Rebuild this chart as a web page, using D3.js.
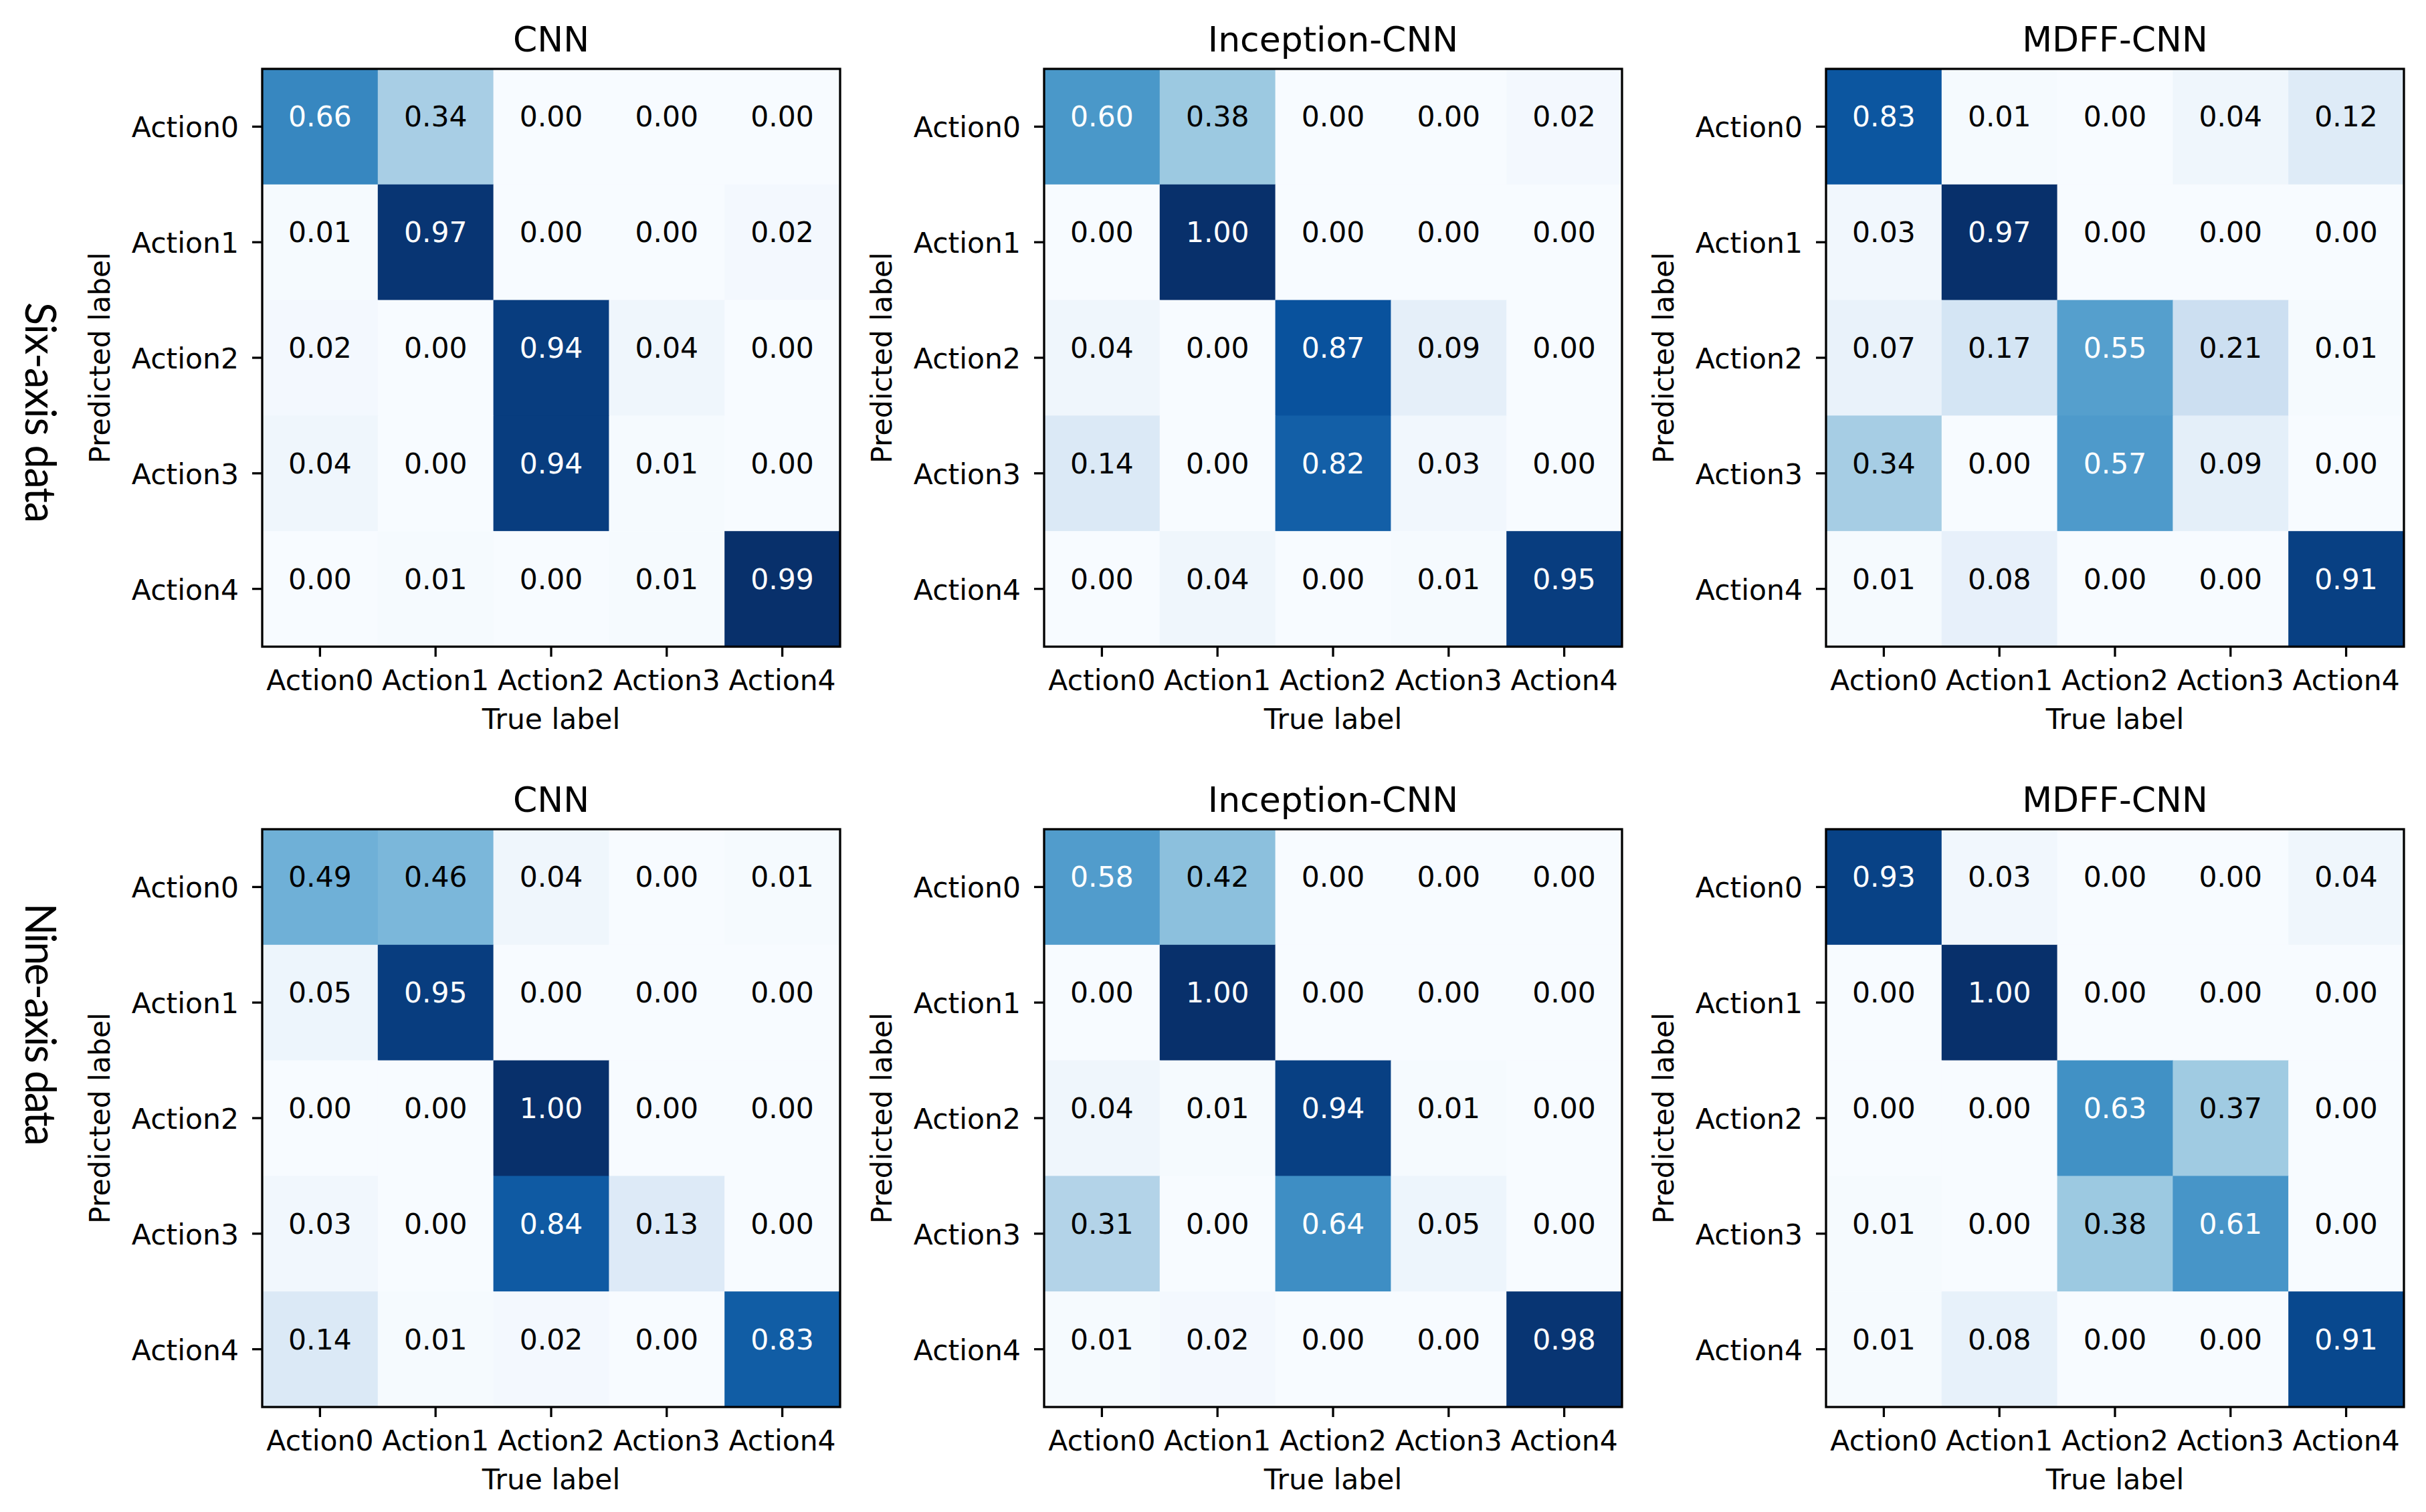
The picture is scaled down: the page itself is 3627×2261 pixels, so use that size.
<!DOCTYPE html>
<html>
<head>
<meta charset="utf-8">
<script src="https://cdn.jsdelivr.net/npm/d3@7"></script>
<style>
  html, body { margin: 0; padding: 0; background: #ffffff; }
  svg { display: block; }
</style>
</head>
<body>
<script>
// ---------- DATA ----------
const actions = ["Action0", "Action1", "Action2", "Action3", "Action4"];
const modelTitles = ["CNN", "Inception-CNN", "MDFF-CNN"];
const rowLabels = ["Six-axis data", "Nine-axis data"];

// rows = predicted label, columns = true label
const sixCNN = [
  [0.66, 0.34, 0.00, 0.00, 0.00],
  [0.01, 0.97, 0.00, 0.00, 0.02],
  [0.02, 0.00, 0.94, 0.04, 0.00],
  [0.04, 0.00, 0.94, 0.01, 0.00],
  [0.00, 0.01, 0.00, 0.01, 0.99]
];
const sixInception = [
  [0.60, 0.38, 0.00, 0.00, 0.02],
  [0.00, 1.00, 0.00, 0.00, 0.00],
  [0.04, 0.00, 0.87, 0.09, 0.00],
  [0.14, 0.00, 0.82, 0.03, 0.00],
  [0.00, 0.04, 0.00, 0.01, 0.95]
];
const sixMDFF = [
  [0.83, 0.01, 0.00, 0.04, 0.12],
  [0.03, 0.97, 0.00, 0.00, 0.00],
  [0.07, 0.17, 0.55, 0.21, 0.01],
  [0.34, 0.00, 0.57, 0.09, 0.00],
  [0.01, 0.08, 0.00, 0.00, 0.91]
];
const nineCNN = [
  [0.49, 0.46, 0.04, 0.00, 0.01],
  [0.05, 0.95, 0.00, 0.00, 0.00],
  [0.00, 0.00, 1.00, 0.00, 0.00],
  [0.03, 0.00, 0.84, 0.13, 0.00],
  [0.14, 0.01, 0.02, 0.00, 0.83]
];
const nineInception = [
  [0.58, 0.42, 0.00, 0.00, 0.00],
  [0.00, 1.00, 0.00, 0.00, 0.00],
  [0.04, 0.01, 0.94, 0.01, 0.00],
  [0.31, 0.00, 0.64, 0.05, 0.00],
  [0.01, 0.02, 0.00, 0.00, 0.98]
];
const nineMDFF = [
  [0.93, 0.03, 0.00, 0.00, 0.04],
  [0.00, 1.00, 0.00, 0.00, 0.00],
  [0.00, 0.00, 0.63, 0.37, 0.00],
  [0.01, 0.00, 0.38, 0.61, 0.00],
  [0.01, 0.08, 0.00, 0.00, 0.91]
];

const matrices = [
  [sixCNN, sixInception, sixMDFF],
  [nineCNN, nineInception, nineMDFF]
];

// ---------- LAYOUT ----------
const W = 3627, H = 2261;
const panelLefts = [392, 1561, 2730];
const panelTops = [103, 1240];
const S = 864;
const FONT = "DejaVu Sans, sans-serif";
const tickFont = 42.5;
const titleFont = 52;

// matplotlib "Blues" colormap (linear segments)
const bluesStops = ["#f7fbff", "#deebf7", "#c6dbef", "#9ecae1", "#6baed6",
                    "#4292c6", "#2171b5", "#08519c", "#08306b"];
const blues = d3.scaleLinear()
  .domain(d3.range(bluesStops.length).map(i => i / (bluesStops.length - 1)))
  .range(bluesStops)
  .interpolate(d3.interpolateRgb)
  .clamp(true);

const svg = d3.select("body").append("svg")
  .attr("width", W).attr("height", H)
  .attr("viewBox", `0 0 ${W} ${H}`);

svg.append("rect").attr("width", W).attr("height", H).attr("fill", "#ffffff");

matrices.forEach((row, ri) => {
  row.forEach((mat, ci) => {
    const left = panelLefts[ci], top = panelTops[ri];
    const x = d3.scaleBand().domain(actions).range([0, S]).padding(0);
    const y = d3.scaleBand().domain(actions).range([0, S]).padding(0);
    const flat = mat.flat();
    const vmin = d3.min(flat), vmax = d3.max(flat);
    const norm = d3.scaleLinear().domain([vmin, vmax]).range([0, 1]);
    const thresh = vmax / 2;

    const g = svg.append("g").attr("transform", `translate(${left},${top})`);

    const cells = [];
    mat.forEach((r, i) => r.forEach((v, j) => cells.push({ i, j, v })));

    g.selectAll("rect.cell").data(cells).enter().append("rect")
      .attr("class", "cell")
      .attr("x", d => x(actions[d.j]))
      .attr("y", d => y(actions[d.i]))
      .attr("width", x.bandwidth() + 0.6)
      .attr("height", y.bandwidth() + 0.6)
      .attr("fill", d => blues(norm(d.v)));

    g.selectAll("text.val").data(cells).enter().append("text")
      .attr("class", "val")
      .attr("x", d => x(actions[d.j]) + x.bandwidth() / 2)
      .attr("y", d => y(actions[d.i]) + y.bandwidth() / 2)
      .attr("text-anchor", "middle")
      .attr("font-family", FONT)
      .attr("font-size", tickFont)
      .attr("fill", d => d.v > thresh ? "#ffffff" : "#000000")
      .text(d => d.v.toFixed(2));

    // frame
    g.append("rect")
      .attr("x", 0).attr("y", 0).attr("width", S).attr("height", S)
      .attr("fill", "none").attr("stroke", "#000").attr("stroke-width", 3.3);

    // x axis
    const xAxis = d3.axisBottom(x).tickSize(15).tickPadding(0);
    const gx = g.append("g").attr("transform", `translate(0,${S})`).call(xAxis);
    gx.select(".domain").remove();
    gx.selectAll(".tick line").attr("stroke", "#000").attr("stroke-width", 3.3);
    gx.selectAll(".tick text")
      .attr("font-family", FONT).attr("font-size", tickFont).attr("fill", "#000")
      .attr("dy", null).attr("y", 65);

    // y axis
    const yAxis = d3.axisLeft(y).tickSize(15).tickPadding(0);
    const gy = g.append("g").call(yAxis);
    gy.select(".domain").remove();
    gy.selectAll(".tick line").attr("stroke", "#000").attr("stroke-width", 3.3);
    gy.selectAll(".tick text")
      .attr("font-family", FONT).attr("font-size", tickFont).attr("fill", "#000")
      .attr("dy", null).attr("x", -35).attr("y", 16)
      .attr("text-anchor", "end");

    // title
    g.append("text")
      .attr("x", S / 2).attr("y", -26)
      .attr("text-anchor", "middle")
      .attr("font-family", FONT).attr("font-size", titleFont).attr("fill", "#000")
      .text(modelTitles[ci]);

    // axis labels
    g.append("text")
      .attr("x", S / 2).attr("y", S + 123)
      .attr("text-anchor", "middle")
      .attr("font-family", FONT).attr("font-size", tickFont).attr("fill", "#000")
      .text("True label");

    g.append("text")
      .attr("transform", `translate(-228,${S / 2}) rotate(-90)`)
      .attr("text-anchor", "middle")
      .attr("font-family", FONT).attr("font-size", tickFont).attr("fill", "#000")
      .text("Predicted label");
  });
});

// row labels
const rowLabelCenters = [617, 1532];
const rowLabelLengths = [330, 363];
rowLabels.forEach((lbl, i) => {
  svg.append("text")
    .attr("transform", `translate(38,${rowLabelCenters[i]}) rotate(90)`)
    .attr("text-anchor", "middle")
    .attr("font-family", "Lato, 'Open Sans', sans-serif")
    .attr("font-size", 63)
    .attr("fill", "#000")
    .attr("textLength", rowLabelLengths[i])
    .attr("lengthAdjust", "spacing")
    .text(lbl);
});
</script>
</body>
</html>
